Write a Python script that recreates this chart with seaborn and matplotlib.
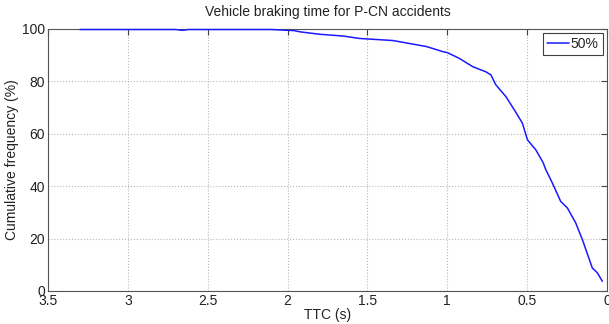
import matplotlib
matplotlib.use("Agg")
import matplotlib.pyplot as plt
import seaborn as sns
import pandas as pd

ttc = [3.30, 2.70, 2.66, 2.62, 2.10, 2.00, 1.96, 1.92, 1.80, 1.65, 1.55, 1.50, 1.34,
       1.24, 1.13, 1.03, 1.00, 0.925, 0.84, 0.76, 0.727, 0.696, 0.633, 0.58, 0.53,
       0.498, 0.446, 0.40, 0.383, 0.342, 0.29, 0.248, 0.196, 0.154, 0.092, 0.06, 0.029]
freq = [99.8, 99.8, 99.5, 99.8, 99.8, 99.5, 99.4, 98.9, 98.0, 97.3, 96.4, 96.2, 95.6,
        94.5, 93.3, 91.4, 91.0, 88.8, 85.6, 83.7, 82.5, 78.7, 74.2, 69.1, 64.1,
        57.7, 53.9, 49.0, 46.3, 41.2, 34.2, 31.7, 26.0, 19.6, 8.8, 6.9, 3.7]
series = "50%"

df = pd.DataFrame({"TTC": ttc, "freq": freq, "series": series})

sns.set_style("white")
plt.rcParams["font.family"] = ["Liberation Sans", "DejaVu Sans"]

fig = plt.figure(figsize=(6.09, 3.24), dpi=100)
ax = fig.add_axes([0.0788, 0.1019, 0.9967 - 0.0788, 0.9105 - 0.1019])

sns.lineplot(data=df, x="TTC", y="freq", hue="series", palette=["#1a1aff"],
             sort=False, estimator=None, linewidth=1.1, ax=ax)
for ln in ax.get_lines():
    ln.set_clip_on(False)
    ln.set_zorder(3)

ax.set_xlim(3.5, 0)
ax.set_ylim(0, 100)
ax.set_xticks([3.5, 3, 2.5, 2, 1.5, 1, 0.5, 0])
ax.set_xticklabels(["3.5", "3", "2.5", "2", "1.5", "1", "0.5", "0"])
ax.set_yticks([0, 20, 40, 60, 80, 100])
ax.grid(True, linestyle=":", color="#b8b8b8", linewidth=0.8)
ax.tick_params(direction="in", length=4, width=0.8, color="#404040",
               labelsize=10, labelcolor="#222222", top=True, right=True, pad=2)
for s in ax.spines.values():
    s.set_color("#555555")
    s.set_linewidth(0.8)

ax.set_xlabel("TTC (s)", fontsize=10, labelpad=0, color="#222222")
ax.set_ylabel("Cumulative frequency (%)", fontsize=10, labelpad=2, color="#222222")
ax.set_title("Vehicle braking time for P-CN accidents", fontsize=10, pad=9, color="#222222")

leg = ax.legend(loc="upper right", fontsize=10, handlelength=1.6, handletextpad=0.1,
                borderpad=0.3, fancybox=False, framealpha=1, borderaxespad=0.3)
leg.get_frame().set_edgecolor("#404040")
leg.get_frame().set_linewidth(0.8)

fig.savefig("out.png", dpi=100)
